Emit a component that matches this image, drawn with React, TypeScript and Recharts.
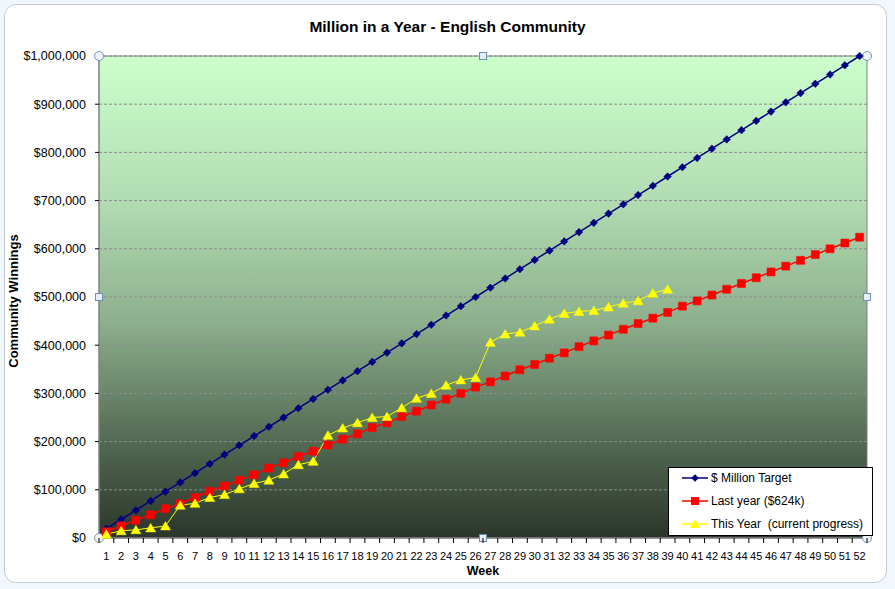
import React from 'react';
import {
  LineChart,
  Line,
  XAxis,
  YAxis,
  CartesianGrid,
  Legend,
  ReferenceDot,
  ReferenceArea,
  Label,
} from 'recharts';

const weeks = [
  1, 2, 3, 4, 5, 6, 7, 8, 9, 10, 11, 12, 13, 14, 15, 16, 17, 18, 19, 20, 21, 22, 23, 24, 25, 26,
  27, 28, 29, 30, 31, 32, 33, 34, 35, 36, 37, 38, 39, 40, 41, 42, 43, 44, 45, 46, 47, 48, 49, 50,
  51, 52,
];

const millionTarget = [
  19231, 38462, 57692, 76923, 96154, 115385, 134615, 153846, 173077, 192308, 211538, 230769,
  250000, 269231, 288462, 307692, 326923, 346154, 365385, 384615, 403846, 423077, 442308, 461538,
  480769, 500000, 519231, 538462, 557692, 576923, 596154, 615385, 634615, 653846, 673077, 692308,
  711538, 730769, 750000, 769231, 788462, 807692, 826923, 846154, 865385, 884615, 903846, 923077,
  942308, 961538, 980769, 1000000,
];

const lastYear = [
  13000, 25000, 37000, 48000, 61000, 71000, 84000, 97000, 108000, 120000, 131000, 145000, 156000,
  169000, 180000, 193000, 205000, 216000, 229000, 239000, 252000, 263000, 276000, 288000, 300000,
  313000, 324000, 336000, 349000, 360000, 373000, 384000, 397000, 409000, 421000, 433000, 445000,
  456000, 468000, 481000, 492000, 504000, 516000, 528000, 540000, 552000, 564000, 576000, 588000,
  600000, 612000, 624000,
];

const thisYear = [
  8000, 15000, 17000, 21000, 25000, 68000, 72000, 84000, 90000, 102000, 113000, 120000, 133000,
  152000, 159000, 213000, 228000, 239000, 250000, 252000, 270000, 290000, 300000, 317000, 328000,
  333000, 406000, 423000, 427000, 440000, 454000, 466000, 470000, 472000, 479000, 487000, 492000,
  508000, 516000,
];

const yTicks = [0, 100000, 200000, 300000, 400000, 500000, 600000, 700000, 800000, 900000, 1000000];

const seriesNames = ['$ Million Target', 'Last year ($624k)', 'This Year  (current progress)'];

const handleXs = [0.5, 26.5, 52.5];
const handleYs = [0, 500000, 1000000];

const data = weeks.map((w, i) => ({
  week: w,
  target: millionTarget[i],
  last: lastYear[i],
  current: i < thisYear.length ? thisYear[i] : null,
}));

const W = 895;
const H = 589;
const MARGIN = { top: 56, right: 28, bottom: 0, left: 0 };
const Y_W = 99;
const X_H = 51;
const PLOT_W = W - MARGIN.left - MARGIN.right - Y_W;
const BW = PLOT_W / weeks.length;
const FONT = '"Liberation Sans", Arial, sans-serif';

const NAVY = '#000080';
const RED = '#ff0000';
const YELLOW = '#ffff00';

const diamond = (cx: number, cy: number, r: number) =>
  `M${cx},${cy - r}L${cx + r},${cy}L${cx},${cy + r}L${cx - r},${cy}Z`;
const square = (cx: number, cy: number, r: number) =>
  `M${cx - r},${cy - r}L${cx + r},${cy - r}L${cx + r},${cy + r}L${cx - r},${cy + r}Z`;
const triangle = (cx: number, cy: number, r: number) =>
  `M${cx},${cy - r}L${cx + r + 0.5},${cy + r - 0.5}L${cx - r - 0.5},${cy + r - 0.5}Z`;

const makeDot = (kind: string, color: string) => (props: any) => {
  const { cx, cy, index, value } = props;
  const k = `${kind}-${index}`;
  if (cx == null || cy == null || value == null || Number.isNaN(cy)) return <g key={k} />;
  let d = '';
  if (kind === 'diamond') d = diamond(cx, cy, 3.8);
  else if (kind === 'square') d = square(cx, cy, 4);
  else d = triangle(cx, cy, 4.5);
  return <path key={k} d={d} fill={color} stroke={color} strokeWidth={0.5} />;
};

const XTick = (props: any) => {
  const { x, y, payload, index } = props;
  const left = x - BW / 2;
  return (
    <g>
      <line x1={left} x2={left} y1={y} y2={y + 5} stroke="#000" strokeWidth={1} />
      {index === weeks.length - 1 && (
        <line x1={x + BW / 2} x2={x + BW / 2} y1={y} y2={y + 5} stroke="#000" strokeWidth={1} />
      )}
      <text x={x} y={y + 22} textAnchor="middle" fontSize={11} fontFamily={FONT} fill="#000">
        {payload.value}
      </text>
    </g>
  );
};

const legendShapes = [
  { kind: 'diamond', color: NAVY },
  { kind: 'square', color: RED },
  { kind: 'triangle', color: YELLOW },
];

const renderLegend = (props: any) => {
  const payload = props.payload || [];
  return (
    <div
      style={{
        position: 'relative',
        width: 205,
        height: 69,
        border: '1px solid #000',
        background: '#fff',
        boxSizing: 'border-box',
        fontFamily: FONT,
        fontSize: 12,
        color: '#000',
      }}
    >
      {payload.map((p: any, i: number) => {
        const s = legendShapes[i] || legendShapes[0];
        let d = '';
        if (s.kind === 'diamond') d = diamond(13, 7, 3.8);
        else if (s.kind === 'square') d = square(13, 7, 4);
        else d = triangle(13, 7, 4.5);
        return (
          <div
            key={i}
            style={{
              position: 'absolute',
              left: 13,
              top: 3 + i * 23,
              height: 14,
              display: 'flex',
              alignItems: 'center',
              whiteSpace: 'pre',
            }}
          >
            <svg width={28} height={14} style={{ display: 'block' }}>
              <line x1={0} x2={26} y1={7} y2={7} stroke={s.color} strokeWidth={1.5} />
              <path d={d} fill={s.color} />
            </svg>
            <span style={{ marginLeft: 1 }}>{p.value}</span>
          </div>
        );
      })}
    </div>
  );
};

const handleShape = (round: boolean) => (props: any) => {
  const { cx, cy } = props;
  if (round) {
    return <circle cx={cx} cy={cy} r={4.5} fill="#eef4fa" stroke="#8096ad" strokeWidth={1} />;
  }
  return (
    <rect x={cx - 3.5} y={cy - 3.5} width={7} height={7} fill="#e4eef8" stroke="#7090b0" strokeWidth={1} />
  );
};

export default function App() {
  return (
    <div
      style={{
        position: 'absolute',
        left: 0,
        top: 0,
        width: W,
        height: H,
        background: '#f1f7fc',
        overflow: 'hidden',
      }}
    >
      <div
        style={{
          position: 'absolute',
          left: 4,
          top: 4,
          width: 883,
          height: 579,
          background: '#fff',
          border: '1px solid #c3ccd6',
          borderRadius: 12,
          boxSizing: 'border-box',
        }}
      />
      <div
        style={{
          position: 'absolute',
          left: 0,
          top: 18,
          width: W,
          textAlign: 'center',
          fontFamily: FONT,
          fontWeight: 'bold',
          fontSize: 15.5,
          color: '#000',
          lineHeight: '18px',
        }}
      >
        Million in a Year - English Community
      </div>
      <div style={{ position: 'absolute', left: 0, top: 0 }}>
        <LineChart width={W} height={H} data={data} margin={MARGIN}>
          <defs>
            <linearGradient id="plotBg" x1="0" y1="0" x2="0" y2="1">
              <stop offset="0%" stopColor="#ccffcc" />
              <stop offset="30%" stopColor="#b2dcb2" />
              <stop offset="55%" stopColor="#8db08d" />
              <stop offset="80%" stopColor="#526a52" />
              <stop offset="100%" stopColor="#2b352b" />
            </linearGradient>
          </defs>
          <CartesianGrid
            vertical={false}
            fill="url(#plotBg)"
            fillOpacity={1}
            stroke="#8c8c8c"
            strokeDasharray="3 2"
          />
          <XAxis
            dataKey="week"
            type="number"
            domain={[0.5, 52.5]}
            ticks={weeks}
            interval={0}
            height={X_H}
            tickLine={false}
            tickSize={0}
            tickMargin={0}
            axisLine={{ stroke: '#808080' }}
            tick={<XTick />}
          >
            <Label
              content={(p: any) => {
                const vb = p.viewBox || {};
                return (
                  <text
                    x={vb.x + vb.width / 2}
                    y={vb.y + 37}
                    textAnchor="middle"
                    fontFamily={FONT}
                    fontWeight="bold"
                    fontSize={12.5}
                    fill="#000"
                  >
                    Week
                  </text>
                );
              }}
            />
          </XAxis>
          <YAxis
            width={Y_W}
            domain={[0, 1000000]}
            ticks={yTicks}
            interval={0}
            tickSize={4}
            tickMargin={9}
            tickLine={{ stroke: '#000' }}
            axisLine={{ stroke: '#808080' }}
            tick={{ fontSize: 12.5, fontFamily: FONT, fill: '#000' }}
            tickFormatter={(v: number) => '$' + v.toLocaleString('en-US')}
          >
            <Label
              content={(p: any) => {
                const vb = p.viewBox || {};
                const cx = vb.x + 18;
                const cy = vb.y + vb.height / 2 + 4;
                return (
                  <text
                    x={cx}
                    y={cy}
                    transform={`rotate(-90 ${cx} ${cy})`}
                    textAnchor="middle"
                    fontFamily={FONT}
                    fontWeight="bold"
                    fontSize={13}
                    fill="#000"
                  >
                    Community Winnings
                  </text>
                );
              }}
            />
          </YAxis>
          <ReferenceArea
            x1={0.5}
            x2={52.5}
            y1={0}
            y2={1000000}
            fill="none"
            stroke="#808080"
            strokeWidth={1}
            ifOverflow="visible"
          />
          <Line
            type="linear"
            dataKey="target"
            name={seriesNames[0]}
            stroke={NAVY}
            strokeWidth={1.5}
            dot={makeDot('diamond', NAVY)}
            activeDot={false}
            isAnimationActive={false}
          />
          <Line
            type="linear"
            dataKey="last"
            name={seriesNames[1]}
            stroke={RED}
            strokeWidth={1.5}
            dot={makeDot('square', RED)}
            activeDot={false}
            isAnimationActive={false}
          />
          <Line
            type="linear"
            dataKey="current"
            name={seriesNames[2]}
            stroke={YELLOW}
            strokeWidth={1}
            dot={makeDot('triangle', YELLOW)}
            activeDot={false}
            connectNulls={false}
            isAnimationActive={false}
          />
          {handleXs.map((hx, i) =>
            handleYs.map((hy, j) => {
              const corner = (i === 0 || i === 2) && (j === 0 || j === 2);
              const mid = i === 1 && j === 1;
              if (mid) return null;
              return (
                <ReferenceDot
                  key={`h-${i}-${j}`}
                  x={hx}
                  y={hy}
                  ifOverflow="visible"
                  shape={handleShape(corner)}
                />
              );
            })
          )}
          <Legend
            layout="vertical"
            align="center"
            verticalAlign="middle"
            content={renderLegend}
            wrapperStyle={{ left: 668, top: 467, width: 205, height: 69 }}
          />
        </LineChart>
      </div>
    </div>
  );
}
